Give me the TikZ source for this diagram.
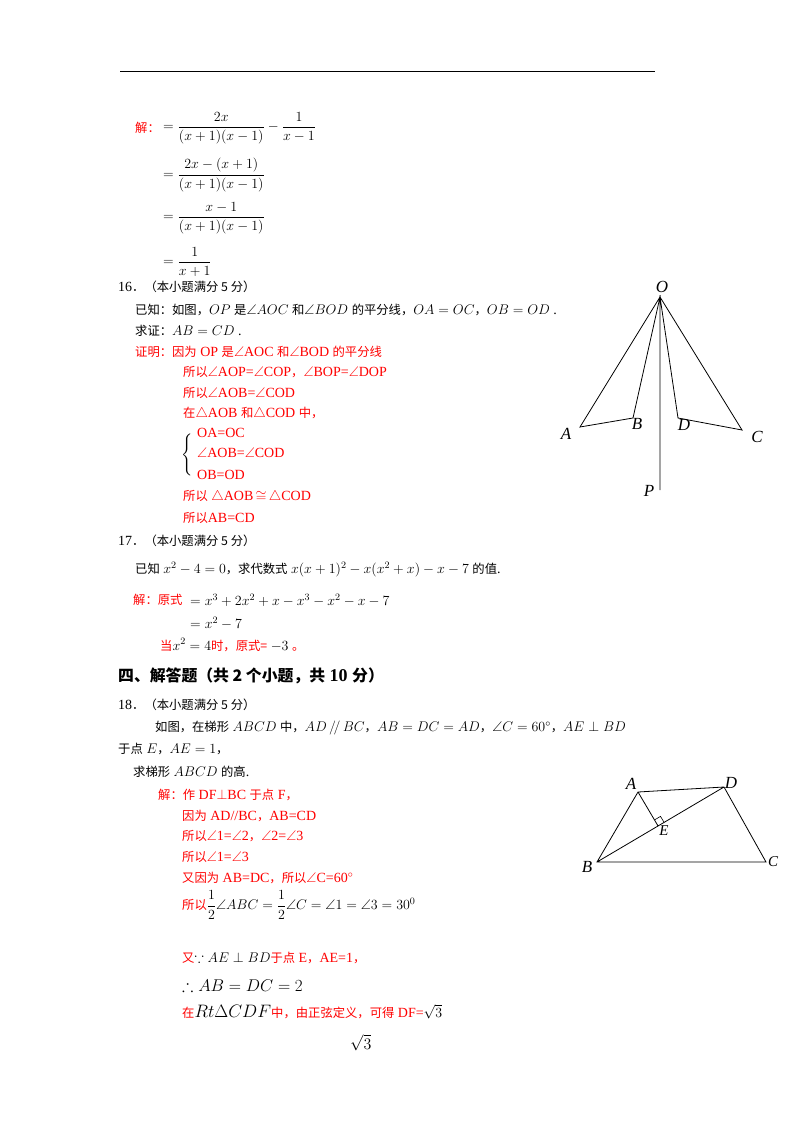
\RequirePackage{fix-cm}
\documentclass[tikz,border=0pt]{standalone}
\usepackage{amsmath,amssymb}
\usepackage{fontspec}
\setmainfont{Liberation Serif}
\newfontfamily\cjk[Scale=0.88]{Noto Sans CJK SC}
\newcommand\zh[1]{{\cjk #1}}
\usetikzlibrary{calc}
\begin{document}
\begin{tikzpicture}[x=1pt,y=-1pt,
  t/.style={anchor=west,inner sep=0pt,font=\fontsize{14}{16}\selectfont},
  r/.style={t,text=red},
  g/.style={line width=0.8pt},
  lab/.style={inner sep=0pt,font=\fontsize{17}{18}\selectfont\itshape}]
\useasboundingbox (0,0) rectangle (800,1132);
\draw[line width=0.8pt] (120,71) -- (655,71);
% problem 15 tail
\node[r] (j1) at (135,128) {\zh{解：}};
\node[t] (f1) at (163,128) {$=\dfrac{2x}{(x+1)(x-1)}-\dfrac{1}{x-1}$};
\node[t] (f2) at (163,175) {$=\dfrac{2x-(x+1)}{(x+1)(x-1)}$};
\node[t] (f3) at (163,218) {$=\dfrac{x-1}{(x+1)(x-1)}$};
\node[t] (f4) at (163,262) {$=\dfrac{1}{x+1}$};
% 16
\node[t] (n16) at (118,287) {16\zh{．（本小题满分 5 分）}};
\node[t] (p16a) at (135,310) {\zh{已知：如图，}$OP$ \zh{是}$\angle AOC$ \zh{和}$\angle BOD$ \zh{的平分线，}$OA=OC$\zh{，}$OB=OD$ .};
\node[t] (p16b) at (135,331) {\zh{求证：}$AB=CD$ .};
\node[r] (s1) at (135,352) {\zh{证明：因为} OP \zh{是}$\angle$AOC \zh{和}$\angle$BOD \zh{的平分线}};
\node[r] (s2) at (183,372) {\zh{所以}$\angle$AOP=$\angle$COP\zh{，}$\angle$BOP=$\angle$DOP};
\node[r] (s3) at (183,393) {\zh{所以}$\angle$AOB=$\angle$COD};
\node[r] (s4) at (183,414) {\zh{在}$\triangle$AOB \zh{和}$\triangle$COD \zh{中，}};
\node[t] (br) at (181,454) {$\left\{\rule{0pt}{26pt}\right.$};
\node[r] (s5) at (197,433) {OA=OC};
\node[r] (s6) at (197,453) {$\angle$AOB=$\angle$COD};
\node[r] (s7) at (197,475) {OB=OD};
\node[r] (s8) at (183,497) {\zh{所以} $\triangle$AOB\,$\cong$\,$\triangle$COD};
\node[r] (s9) at (183,518) {\zh{所以}AB=CD};
% figure 1
\coordinate (O) at (660,297);
\coordinate (A) at (580,427);
\coordinate (B) at (633,418);
\coordinate (D) at (678,418);
\coordinate (C) at (742,430);
\coordinate (P) at (660,490);
\draw[g] (O)--(A)--(B)--cycle (O)--(D)--(C)--cycle (O)--(P);
\node[lab] (lO) at (662,287) {O};
\node[lab] (lA) at (566,434) {A};
\node[lab] (lB) at (637,424) {B};
\node[lab] (lD) at (684,425) {D};
\node[lab] (lC) at (757,437) {C};
\node[lab] (lP) at (649,491) {P};
% 17
\node[t] (n17) at (118,541) {17\zh{．（本小题满分 5 分）}};
\node[t] (p17) at (135,570) {\zh{已知} $x^2-4=0$\zh{，求代数式} $x(x+1)^2-x(x^2+x)-x-7$ \zh{的值}.};
\node[r] (j17) at (133,600) {\zh{解：原式}};
\node[t] (e1) at (190,600) {$=x^3+2x^2+x-x^3-x^2-x-7$};
\node[t] (e2) at (190,623) {$=x^2-7$};
\node[r] (e3) at (160,645) {\zh{当}\textcolor{black}{$x^2=4$}\zh{时，原式=} \textcolor{black}{$-3$} \zh{。}};
% heading
\node[t,font=\fontsize{18}{20}\selectfont\bfseries] (h4) at (118,676) {\zh{四、解答题（共 2 个小题，共} 10 \zh{分）}};
% 18
\node[t] (n18) at (118,705) {18\zh{．（本小题满分 5 分）}};
\node[t] (p18a) at (155,728) {\zh{如图，在梯形} $ABCD$ \zh{中，}$AD\,/\!/\,BC$\zh{，}$AB=DC=AD$\zh{，}$\angle C=60^\circ$\zh{，}$AE\perp BD$};
\node[t] (p18b) at (118,749) {\zh{于点} $E$\zh{，}$AE=1$\zh{，}};
\node[t] (p18c) at (133,772) {\zh{求梯形} $ABCD$ \zh{的高}.};
\node[r] (q1) at (158,795) {\zh{解：作} DF$\perp$BC \zh{于点} F\zh{，}};
\node[r] (q2) at (182,816) {\zh{因为} AD//BC\zh{，}AB=CD};
\node[r] (q3) at (182,836) {\zh{所以}$\angle$1=$\angle$2\zh{，}$\angle$2=$\angle$3};
\node[r] (q4) at (182,857) {\zh{所以}$\angle$1=$\angle$3};
\node[r] (q5) at (182,878) {\zh{又因为} AB=DC\zh{，所以}$\angle$C=60$^\circ$};
\node[r] (q6) at (182,905) {\zh{所以}\textcolor{black}{$\dfrac12\angle ABC=\dfrac12\angle C=\angle1=\angle3=30^0$}};
\node[r] (q7) at (182,958) {\zh{又}\textcolor{black}{$\because AE\perp BD$}\zh{于点} E\zh{，}AE=1\zh{，}};
\node[t,font=\fontsize{17}{19}\selectfont] (q8) at (182,986) {$\therefore AB=DC=2$};
\node[r] (q9) at (182,1012) {\zh{在}\textcolor{black}{\fontsize{18}{20}\selectfont$Rt\Delta CDF$}\zh{中，由正弦定义，可得} DF=\textcolor{black}{$\sqrt3$}};
\node[t,font=\fontsize{16}{18}\selectfont] (q10) at (350,1043) {$\sqrt3$};
% figure 2
\coordinate (A2) at (638,792);
\coordinate (D2) at (724,787);
\coordinate (B2) at (597,862);
\coordinate (C2) at (766,862);
\coordinate (E2) at ($(B2)!(A2)!(D2)$);
\draw[g] (A2)--(D2)--(C2)--(B2)--cycle (B2)--(D2) (A2)--(E2);
\draw[line width=0.6pt] ($(E2)!7pt!(A2)$) -- ($($(E2)!7pt!(A2)$)+($(E2)!7pt!(D2)$)-(E2)$) -- ($(E2)!7pt!(D2)$);
\node[lab] (lA2) at (631,784) {A};
\node[lab] (lD2) at (731,783) {D};
\node[lab] (lB2) at (587,867) {B};
\node[lab,font=\fontsize{15}{16}\selectfont\itshape] (lC2) at (773,862) {C};
\node[lab,font=\fontsize{15}{16}\selectfont\itshape] (lE2) at (664,831) {E};
\end{tikzpicture}
\end{document}
